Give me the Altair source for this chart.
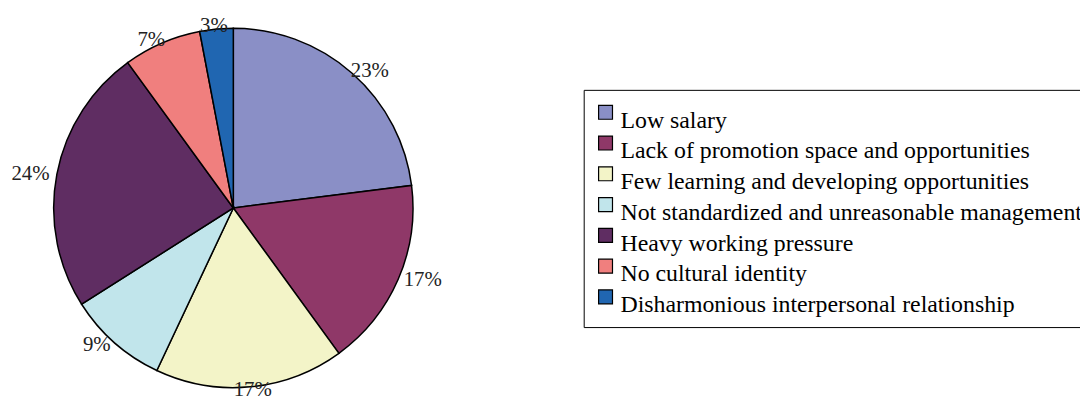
import altair as alt
import pandas as pd

categories = [
    "Low salary",
    "Lack of promotion space and opportunities",
    "Few learning and developing opportunities",
    "Not standardized and unreasonable management",
    "Heavy working pressure",
    "No cultural identity",
    "Disharmonious interpersonal relationship",
]
values = [23, 17, 17, 9, 24, 7, 3]
labels = ["23%", "17%", "17%", "9%", "24%", "7%", "3%"]
colors = ["#8A8FC6", "#8F3868", "#F3F4C8", "#C1E5EB", "#5F2D62", "#F07F7E", "#2066B1"]

df = pd.DataFrame({
    "category": categories,
    "value": values,
    "label": labels,
    "order": list(range(len(categories))),
})

CX, CY = 227, 200
RX, RY = 208, 184
SERIF = "Liberation Serif"
# square symbol raised above the label's middle
RAISED_SQUARE = "M-1,-2.2H1V-0.2H-1Z"

pie = alt.Chart(df).mark_arc(stroke="black", strokeWidth=1.5, outerRadius=181).encode(
    theta=alt.Theta("value:Q", stack=True),
    order=alt.Order("order:Q"),
    x=alt.value(CX),
    y=alt.value(CY),
    color=alt.Color(
        "category:N",
        sort=categories,
        scale=alt.Scale(domain=categories, range=colors),
        legend=alt.Legend(
            title=" ",
            titleFontSize=9,
            titlePadding=0,
            orient="none",
            legendX=580,
            legendY=81,
            strokeColor="black",
            fillColor="white",
            padding=10,
            symbolType=RAISED_SQUARE,
            symbolSize=196,
            symbolStrokeColor="black",
            symbolStrokeWidth=1.2,
            labelFont=SERIF,
            labelFontSize=24,
            labelColor="black",
            labelLimit=0,
            labelBaseline="middle",
            rowPadding=1,
            labelOffset=3,
        ),
    ),
)

text = (
    alt.Chart(df)
    .transform_joinaggregate(total="sum(value)")
    .transform_window(cum="sum(value)", sort=[alt.SortField("order")])
    .transform_calculate(mid="2*PI*(datum.cum - datum.value/2)/datum.total")
    .transform_calculate(
        lx=f"{CX} + {RX}*sin(datum.mid)",
        ly=f"{CY} - {RY}*cos(datum.mid)",
    )
    .mark_text(font=SERIF, fontSize=21, color="#222222")
    .encode(
        x=alt.X("lx:Q", scale=None),
        y=alt.Y("ly:Q", scale=None),
        text="label:N",
    )
)

chart = (
    alt.layer(pie, text)
    .properties(
        width=1080,
        height=392,
        autosize=alt.AutoSizeParams(type="none"),
        padding=0,
    )
    .configure_view(stroke=None)
)

chart.save("out.html", embed_options={"renderer": "svg", "actions": False})
